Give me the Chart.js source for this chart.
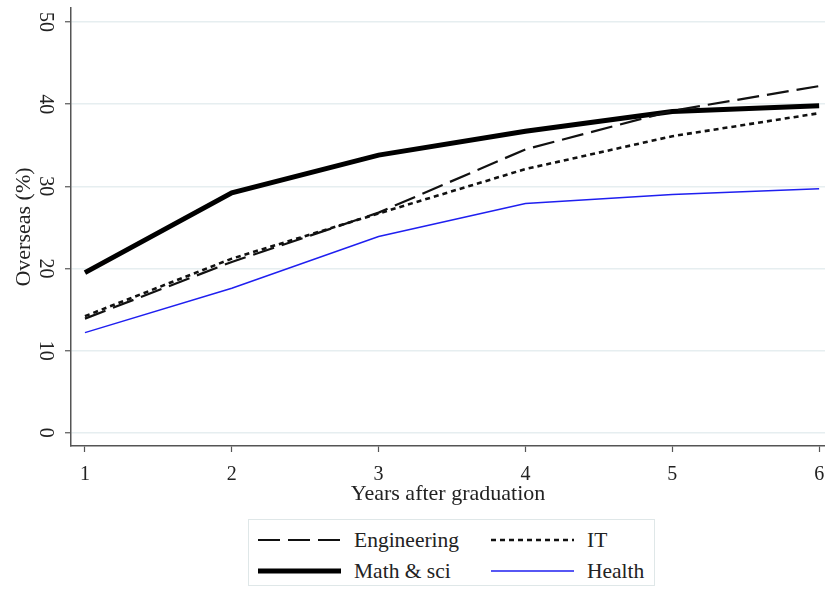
<!DOCTYPE html>
<html>
<head>
<meta charset="utf-8">
<script src="https://cdn.jsdelivr.net/npm/chart.js@4"></script>
<style>
  body { margin: 0; background: #fff; width: 825px; height: 590px; position: relative; overflow: hidden; }
  #wrap { position: absolute; left: 0; top: 0; width: 825px; height: 510px; }
  #legenda {
    position: absolute; left: 248px; top: 519px; width: 407px; height: 67px;
    border: 1px solid #dfe7e8; box-sizing: border-box;
    font-family: "Liberation Serif", "Times New Roman", serif; font-size: 21.5px; color: #222;
  }
  .item { position: absolute; height: 22px; line-height: 22px; }
  .item svg { position: absolute; left: 0; top: 3px; }
  .item span { position: absolute; left: 96px; top: 0; white-space: nowrap; }
</style>
</head>
<body>
<div id="wrap"><canvas id="grafico" width="825" height="510"></canvas></div>
<div id="legenda"></div>
<script>
// dados
const anos = [1, 2, 3, 4, 5, 6];
const engenharia = [13.9, 20.8, 26.8, 34.5, 39.2, 42.2];
const ti = [14.2, 21.2, 26.7, 32.1, 36.1, 38.9];
const matematica = [19.5, 29.2, 33.8, 36.7, 39.1, 39.8];
const saude = [12.2, 17.6, 23.9, 27.9, 29.0, 29.7];
const ticksX = [1, 2, 3, 4, 5, 6];
const ticksY = [0, 10, 20, 30, 40, 50];

const fonte = "'Liberation Serif', 'Times New Roman', serif";

function pontos(valores) {
    return anos.map((a, i) => ({ x: a, y: valores[i] }));
}

const series = [
    { label: 'Engineering', data: engenharia, cor: '#111', largura: 2.2, traco: [22, 8] },
    { label: 'IT', data: ti, cor: '#111', largura: 2.6, traco: [5, 4] },
    { label: 'Math & sci', data: matematica, cor: '#000', largura: 5, traco: [] },
    { label: 'Health', data: saude, cor: '#1f1ff0', largura: 1.5, traco: [] }
];

const ctx = document.getElementById('grafico').getContext('2d');

const grafico = new Chart(ctx, {
    type: 'line',
    data: {
        datasets: series.map(s => ({
            label: s.label,
            data: pontos(s.data),
            borderColor: s.cor,
            borderWidth: s.largura,
            borderDash: s.traco,
            pointRadius: 0,
            fill: false,
            tension: 0
        }))
    },
    options: {
        responsive: false,
        animation: false,
        layout: { padding: { top: 8, right: 0, left: 0, bottom: 0 } },
        plugins: {
            legend: { display: false },
            tooltip: { enabled: false }
        },
        scales: {
            x: {
                type: 'linear',
                min: 0.905,
                max: 6.04,
                afterBuildTicks: scale => { scale.ticks = ticksX.map(v => ({ value: v })); },
                afterFit: scale => { scale.height = 64; scale.paddingRight = 0; scale.paddingLeft = 0; },
                ticks: {
                    color: '#222',
                    font: { family: fonte, size: 20 },
                    padding: 11,
                    maxRotation: 0
                },
                grid: { drawOnChartArea: false, tickLength: 6, tickColor: '#555', tickWidth: 1.2 },
                border: { color: '#555', width: 1.5 },
                title: {
                    display: true,
                    text: 'Years after graduation',
                    color: '#222',
                    font: { family: fonte, size: 22 },
                    padding: { top: 0, bottom: 3 }
                }
            },
            y: {
                type: 'linear',
                min: -1.6,
                max: 51.7,
                afterBuildTicks: scale => { scale.ticks = ticksY.map(v => ({ value: v })); },
                afterFit: scale => { scale.width = 71; scale.paddingTop = 0; scale.paddingBottom = 0; },
                ticks: {
                    color: '#222',
                    font: { family: fonte, size: 20 },
                    padding: 10,
                    minRotation: -90,
                    maxRotation: -90,
                    crossAlign: 'center'
                },
                grid: { color: '#e6eef0', lineWidth: 1.5, tickLength: 6, tickColor: '#555', tickWidth: 1.2 },
                border: { color: '#555', width: 1.5 },
                title: {
                    display: true,
                    text: 'Overseas (%)',
                    color: '#222',
                    font: { family: fonte, size: 22 },
                    padding: { top: 11, bottom: 0 }
                }
            }
        }
    }
});

// legenda em duas colunas, como no original
const legenda = document.getElementById('legenda');
const posicoes = [
    { left: 9, top: 9 },
    { left: 242, top: 9 },
    { left: 9, top: 40 },
    { left: 242, top: 40 }
];
series.forEach((s, i) => {
    const item = document.createElement('div');
    item.className = 'item';
    item.style.left = posicoes[i].left + 'px';
    item.style.top = posicoes[i].top + 'px';
    item.style.width = '150px';
    const dash = s.traco.length ? `stroke-dasharray="${s.traco.join(' ')}"` : '';
    item.innerHTML = `<svg width="84" height="16"><line x1="0" y1="8" x2="83" y2="8" stroke="${s.cor}" stroke-width="${s.largura}" ${dash}/></svg><span>${s.label}</span>`;
    legenda.appendChild(item);
});
</script>
</body>
</html>
